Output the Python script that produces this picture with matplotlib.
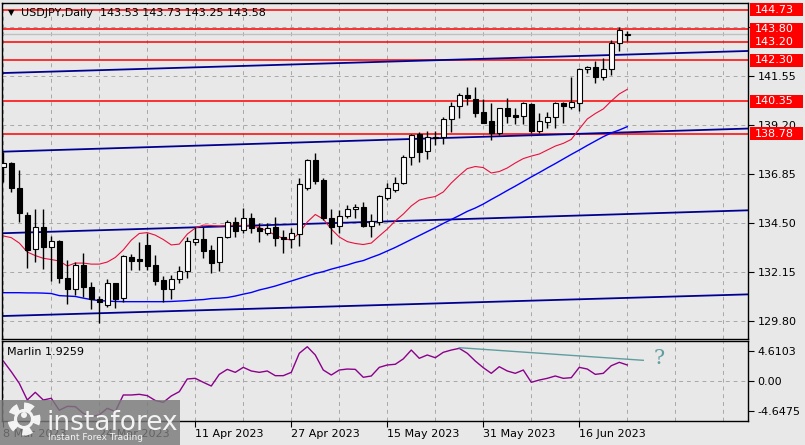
import numpy as np
import matplotlib
matplotlib.use('Agg')
import matplotlib.pyplot as plt
from matplotlib.patches import Rectangle, Circle
from matplotlib.transforms import blended_transform_factory

plt.rcParams['font.family'] = ['DejaVu Sans']

# ---- data (USDJPY daily, 8 Mar .. 26 Jun 2023) ----
opens = [137.17, 137.39, 136.16, 134.88, 133.24, 134.29, 133.36, 133.65, 131.88, 131.32,
         132.49, 131.45, 130.84, 130.57, 131.61, 130.92, 132.85, 132.77, 133.45, 132.49,
         131.77, 131.32, 131.80, 132.20, 133.60, 133.73, 133.20, 132.62, 133.84, 134.53,
         134.16, 134.73, 134.27, 134.00, 134.32, 133.84, 133.73, 133.96, 136.16, 137.52,
         136.56, 134.72, 134.36, 134.85, 135.16, 135.25, 134.37, 134.56, 135.71, 136.08,
         136.40, 137.68, 138.77, 137.97, 138.56, 138.61, 139.49, 140.11, 140.64, 140.43,
         139.84, 139.39, 138.83, 140.00, 139.68, 139.62, 140.21, 138.93, 139.36, 139.60,
         140.27, 140.08, 140.27, 141.87, 141.97, 141.49, 141.87, 143.12, 143.53]
highs = [137.92, 137.45, 137.04, 135.04, 135.16, 135.16, 133.88, 133.68, 132.73, 132.64,
         133.05, 131.69, 131.00, 131.80, 131.63, 132.97, 133.01, 133.60, 134.01, 132.97,
         131.96, 132.01, 132.44, 133.84, 134.29, 134.29, 133.45, 133.84, 134.64, 134.80,
         135.20, 135.00, 134.49, 134.50, 134.80, 134.16, 134.25, 136.64, 137.55, 137.84,
         136.64, 135.16, 135.12, 135.36, 135.39, 135.52, 134.92, 135.85, 136.40, 136.72,
         137.76, 138.77, 138.88, 138.92, 138.93, 139.60, 140.32, 140.72, 141.00, 141.00,
         140.43, 140.24, 140.03, 140.48, 140.03, 140.32, 140.27, 139.79, 139.84, 140.32,
         140.32, 141.52, 141.92, 142.03, 142.28, 142.40, 143.28, 143.92, 143.73]
lows = [136.48, 136.00, 134.56, 132.33, 132.64, 132.29, 131.73, 131.61, 130.60, 131.05,
        130.97, 130.38, 129.69, 130.49, 130.44, 130.73, 132.25, 132.25, 132.25, 131.53,
        130.73, 130.84, 131.61, 131.85, 133.45, 132.81, 132.09, 132.21, 133.77, 133.84,
        134.01, 134.01, 133.60, 133.93, 133.40, 133.04, 133.29, 133.40, 136.08, 136.36,
        134.64, 133.49, 134.00, 134.72, 134.75, 134.32, 133.81, 134.40, 135.60, 136.00,
        136.37, 137.28, 137.44, 137.57, 138.24, 138.29, 138.88, 139.52, 140.16, 139.60,
        139.28, 138.48, 138.72, 139.28, 139.25, 139.25, 138.80, 138.80, 139.04, 139.04,
        139.28, 139.95, 139.89, 141.68, 141.23, 141.36, 141.60, 142.76, 143.25]
closes = [137.36, 136.16, 134.99, 133.21, 134.29, 133.36, 133.64, 131.88, 131.32, 132.49,
          131.42, 130.86, 130.73, 131.61, 130.86, 132.92, 132.69, 132.68, 132.44, 131.73,
          131.33, 131.81, 132.20, 133.64, 133.73, 133.16, 132.60, 133.81, 134.53, 134.13,
          134.73, 134.25, 134.13, 134.27, 133.77, 133.72, 134.00, 136.37, 137.52, 136.53,
          134.75, 134.32, 134.85, 135.16, 135.25, 134.37, 134.60, 135.80, 136.16, 136.43,
          137.68, 138.72, 137.92, 138.61, 138.64, 139.49, 140.11, 140.64, 140.48, 139.79,
          139.31, 138.83, 140.00, 139.63, 139.60, 140.24, 138.91, 139.39, 139.60, 140.27,
          140.11, 140.32, 141.87, 142.00, 141.49, 141.87, 143.12, 143.76, 143.58]

ma_fast = [133.88, 133.80, 133.54, 133.11, 132.94, 132.81, 132.75, 132.68, 132.44, 132.58,
           132.58, 132.53, 132.53, 132.63, 132.85, 133.21, 133.68, 134.00, 134.04, 133.92,
           133.71, 133.45, 133.49, 133.97, 134.26, 134.40, 134.38, 134.36, 134.38, 134.40,
           134.38, 134.36, 134.28, 134.12, 133.92, 133.76, 133.68, 134.02, 134.55, 134.91,
           134.69, 134.21, 133.83, 133.61, 133.52, 133.47, 133.54, 133.88, 134.21, 134.60,
           134.93, 135.32, 135.60, 135.70, 135.77, 135.99, 136.42, 136.78, 137.11, 137.21,
           137.16, 136.90, 136.97, 137.14, 137.38, 137.59, 137.71, 137.81, 138.00, 138.19,
           138.32, 138.51, 139.01, 139.49, 139.75, 139.97, 140.35, 140.69, 140.91]
ma_slow = [131.16, 131.16, 131.16, 131.15, 131.15, 131.14, 131.12, 131.02, 131.00, 130.98,
           130.90, 130.83, 130.78, 130.76, 130.74, 130.73, 130.73, 130.73, 130.73, 130.73,
           130.73, 130.74, 130.76, 130.78, 130.81, 130.83, 130.88, 130.90, 130.93, 131.00,
           131.09, 131.17, 131.29, 131.38, 131.48, 131.60, 131.72, 131.84, 131.96, 132.08,
           132.17, 132.29, 132.39, 132.49, 132.61, 132.70, 132.85, 132.99, 133.16, 133.33,
           133.52, 133.71, 133.90, 134.09, 134.28, 134.48, 134.67, 134.86, 135.06, 135.22,
           135.41, 135.63, 135.84, 136.06, 136.27, 136.49, 136.71, 136.92, 137.14, 137.35,
           137.57, 137.79, 138.00, 138.22, 138.43, 138.64, 138.82, 138.96, 139.12]
marlin = [3.07, 1.43, -0.36, -2.92, -1.74, -2.92, -2.66, -4.5, -3.9, -3.94,
          -4.97, -5.5, -5.2, -4.2, -4.7, -2.15, -2.15, -2.05, -2.25, -3.0,
          -3.28, -2.3, -1.64, 0.31, 0.41, -0.2, -0.77, 1.02, 1.79, 1.33,
          2.1, 1.54, 1.33, 1.54, 0.82, 0.82, 1.33, 4.26, 5.27, 4.0,
          1.69, 0.92, 1.69, 1.84, 1.79, 0.57, 0.77, 2.1, 2.46, 2.57,
          3.4, 4.76, 3.49, 4.0, 3.58, 4.41, 4.76, 5.02, 4.26, 3.07,
          2.05, 1.18, 2.2, 1.54, 1.18, 1.69, -0.2, 0.15, 0.41, 0.77,
          0.41, 0.51, 2.1, 1.84, 1.02, 1.18, 2.35, 2.87, 2.46]

levels = [144.73, 143.80, 143.20, 142.30, 140.35, 138.78]
bid = 143.58
chan_x = [-0.2, 93.1]
channels = [[141.69, 142.75], [137.92, 139.03], [134.01, 135.11], [130.04, 131.08]]
price_ticks = [129.80, 132.15, 134.50, 136.85, 139.20, 141.55, 143.90]
price_labels = ['129.80', '132.15', '134.50', '136.85', '139.20', '141.55', '']
ind_ticks = [4.6103, 0.0, -4.6475]
ind_labels = ['4.6103', '0.00', '-4.6475']
date_pos = [0, 12, 24, 36, 48, 60, 72]
date_labels = ['8 Mar 2023', '24 Mar 2023', '11 Apr 2023', '27 Apr 2023',
               '15 May 2023', '31 May 2023', '16 Jun 2023']
div_x = [57, 80]
div_y = [5.12, 3.18]

BG = '#e8e8e8'
GRID = '#a8a8a8'
W, H = 805, 445


def fbox(l, t, r, b):
    return [l / W, 1 - b / H, (r - l) / W, (b - t) / H]


fig = plt.figure(figsize=(W / 100, H / 100), dpi=100, facecolor=BG)
ax = fig.add_axes(fbox(2, 3, 748, 339), facecolor=BG)
axm = fig.add_axes(fbox(2, 341, 748, 421), facecolor=BG)

x = np.arange(len(closes))
for a in (ax, axm):
    a.set_xlim(-0.16, 93.09)
    for s in a.spines.values():
        s.set_color('black')
        s.set_linewidth(1)
    for k in range(0, 94, 6):
        a.axvline(k, color=GRID, lw=0.7, ls=(0, (4, 4)), zorder=0)
ax.set_ylim(128.94, 145.05)
axm.set_ylim(-6.15, 6.15)

# main panel
for v in price_ticks:
    ax.axhline(v, color=GRID, lw=0.7, ls=(0, (4, 4)), zorder=0)
ax.axhline(bid, color='#c0c0c0', lw=1, zorder=1)
for lv in levels:
    ax.axhline(lv, color='#ff0000', lw=1.1, zorder=2)
for ch in channels:
    ax.plot(chan_x, ch, color='#000090', lw=1.3, zorder=2)
ax.plot(x, ma_slow, color='#0000ff', lw=1.0, zorder=2)
ax.plot(x, ma_fast, color='#e8103c', lw=0.8, zorder=2)

o = np.array(opens); c = np.array(closes)
ax.vlines(x, lows, highs, color='black', lw=1, zorder=3)
face = ['white' if cc >= oo else 'black' for oo, cc in zip(o, c)]
ax.bar(x, np.maximum(np.abs(c - o), 0.03), bottom=np.minimum(o, c), width=0.62,
       color=face, edgecolor='black', linewidth=0.8, zorder=4)

ax.yaxis.tick_right()
ax.set_yticks(price_ticks)
ax.set_yticklabels(price_labels)
ax.tick_params(axis='y', direction='out', length=4, width=0.8, pad=3, labelsize=8)
ax.tick_params(axis='x', bottom=False, labelbottom=False)

tr = blended_transform_factory(ax.transAxes, ax.transData)
bh = 13 / 20.85
for lv in levels:
    ax.add_patch(Rectangle((1 + 2 / 746, lv - bh / 2), 53 / 746, bh, transform=tr,
                           fc='#ff0000', ec='none', clip_on=False, zorder=5))
    ax.text(1 + 7 / 746, lv, f'{lv:.2f}', transform=tr, color='white', fontsize=8,
            ha='left', va='center', clip_on=False, zorder=6)

fig.text(8 / W, 1 - 12.5 / H, '▼', fontsize=6, va='center', ha='left')
fig.text(21 / W, 1 - 13 / H, 'USDJPY,Daily  143.53 143.73 143.25 143.58',
         fontsize=8, va='center', ha='left')

# indicator panel
axm.axhline(0, color=GRID, lw=0.7, ls=(0, (4, 4)), zorder=0)
axm.plot(x, marlin, color='#8b008b', lw=1.0, zorder=2)
axm.plot(div_x, div_y, color='#5f9ea0', lw=1.0, zorder=2)
axm.text(82, 3.4, '?', color='#5f9ea0', fontsize=15, family='DejaVu Serif',
         ha='center', va='center')
axm.yaxis.tick_right()
axm.set_yticks(ind_ticks)
axm.set_yticklabels(ind_labels)
axm.tick_params(axis='y', direction='out', length=4, width=0.8, pad=3, labelsize=8)
axm.set_xticks(date_pos)
axm.set_xticklabels(date_labels)
axm.tick_params(axis='x', direction='out', length=4, width=0.8, pad=1.5, labelsize=8)
for lab in axm.get_xticklabels():
    lab.set_ha('left')
fig.text(7 / W, 1 - 352 / H, 'Marlin 1.9259', fontsize=8, va='center', ha='left')

# watermark
axw = fig.add_axes(fbox(0, 400, 180, 445))
axw.set_xlim(0, 180)
axw.set_ylim(45, 0)
axw.axis('off')
axw.add_patch(Rectangle((0, 0), 180, 45, fc='#7a7a7a', alpha=0.82, ec='none'))
axw.add_patch(Circle((24, 19), 13, fill=False, ec='white', lw=5, ls=(0, (1.3, 1.1)), alpha=0.9))
axw.add_patch(Circle((24, 19), 8.5, fill=False, ec='white', lw=2.2, alpha=0.9))
axw.add_patch(Circle((24, 15), 3, fc='white', ec='none', alpha=0.9))
axw.text(46, 30, 'instaforex', color='white', fontsize=19, ha='left', va='baseline', alpha=0.9)
axw.text(48, 38, 'Instant Forex Trading', color='white', fontsize=6.5, ha='left',
         va='center', alpha=0.9)

fig.savefig('out.png', dpi=100, facecolor=BG)
